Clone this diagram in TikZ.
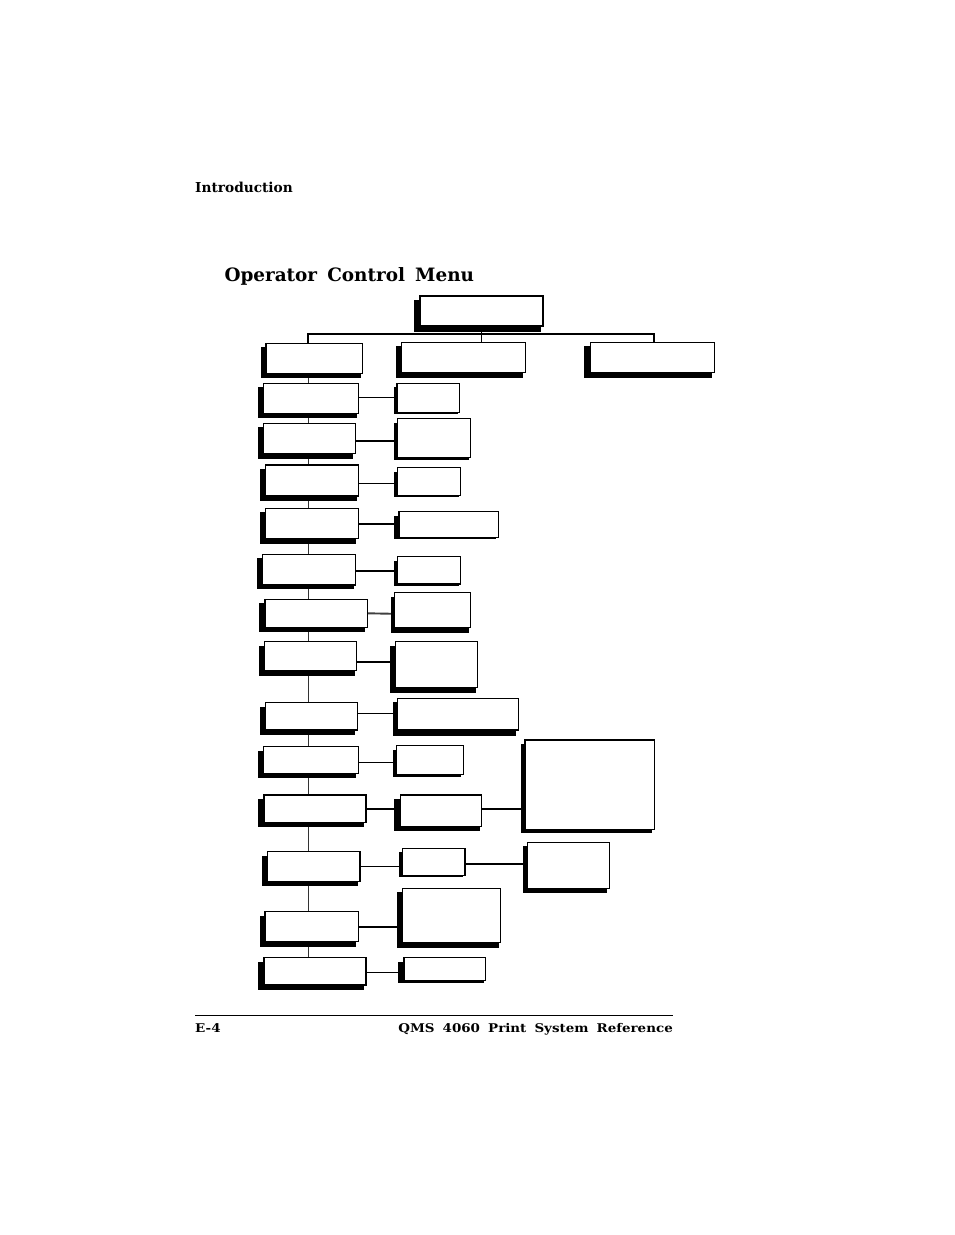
\documentclass[tikz,border=0pt]{standalone}
\usepackage{fontspec}
\setmainfont{DejaVu Serif}
\usetikzlibrary{backgrounds}
\newcommand\bx[7]{\fill[black] ({#2-#6},{#3+4}) rectangle ({#4-2},{#5+#7});
  \node[box, minimum width=#4pt-#2pt, minimum height=#5pt-#3pt]
  (#1) at ({(#2+#4)/2},{(#3+#5)/2}) {};}
\begin{document}
\begin{tikzpicture}[x=1pt,y=-1pt,
  box/.style={draw, fill=white, line width=1.1pt, inner sep=0pt, outer sep=0pt},
  thinlink/.style={line width=0.9pt},
  thicklink/.style={line width=1.9pt},
  treeline/.style={line width=1.9pt},
  spine/.style={line width=1.5pt, black!80},
  hdr/.style={inner sep=0pt, font=\fontsize{13.7}{16}\selectfont\bfseries},
  foot/.style={inner sep=0pt, font=\fontsize{12}{14}\selectfont\bfseries}]
\useasboundingbox (0,0) rectangle (954,1235);
% header / title / footer
\node[hdr, anchor=base west] (intro) at (195,192.7) {Introduction};
\node[inner sep=0pt, anchor=base west, font=\fontsize{18.4}{22}\selectfont\bfseries] (title) at (224.3,281.7) {Operator\hspace{0.55em}Control\hspace{0.55em}Menu};
\draw[line width=0.8pt] (195,1015) -- (673,1015);
\node[foot, anchor=base west] (page) at (195,1032.3) {\scalebox{1.12}[1]{E-4}};
\node[foot, anchor=base east] (book) at (673,1032.3) {\scalebox{1.12}[1]{QMS\hspace{0.6em}4060\hspace{0.6em}Print\hspace{0.6em}System\hspace{0.6em}Reference}};
% boxes
\bx{T}{420}{296}{543}{326}{6}{5.5}
\bx{L0}{266}{343.3}{362.7}{373.3}{5}{4.4}
\bx{M0}{401.7}{342.3}{525.3}{372.3}{6}{5.4}
\bx{R0}{590.7}{342.3}{714.3}{372.3}{6.4}{5.4}
\bx{A1}{263.3}{383.3}{358.7}{413.3}{5}{4.4}
\bx{B1}{397}{383.3}{459.7}{412.3}{3}{2}
\bx{A2}{263.3}{423.3}{355.3}{453.3}{5.3}{5.7}
\bx{B2}{397.3}{418.7}{470.7}{457.3}{3.3}{2.7}
\bx{A3}{265.3}{465}{358.7}{496}{5.3}{4.7}
\bx{B3}{397.3}{467.7}{460.7}{495.3}{3.3}{1.6}
\bx{A4}{265.3}{508.3}{358.3}{538.7}{5.3}{5}
\bx{B4}{399}{511.7}{498.3}{537.3}{5}{1.6}
\bx{A5}{262.3}{554.3}{355.7}{585}{5.6}{4.3}
\bx{B5}{397.7}{556.7}{460.7}{584}{3.7}{1.7}
\bx{A6}{265}{599.3}{367.3}{627.7}{5.7}{4}
\bx{B6}{394.3}{592.7}{470.7}{627.3}{3.3}{5.4}
\bx{A7}{264.3}{641.7}{356.7}{670.7}{5}{5}
\bx{B7}{395.7}{641.7}{477.7}{687.7}{5.7}{5}
\bx{A8}{265.7}{702.7}{357.3}{730}{5.7}{5}
\bx{B8}{397.7}{698.3}{518.3}{730}{5}{5.7}
\bx{A9}{263.3}{746.7}{358.3}{773.3}{5}{4.4}
\bx{B9}{396.7}{745.7}{463.3}{774.3}{3.4}{2.4}
\bx{C9}{525}{740}{654.3}{829.3}{4}{3.4}
\bx{A10}{264}{795}{366}{822.3}{5.7}{4.4}
\bx{B10}{400.7}{795}{481.7}{826.7}{6.7}{4}
\bx{A11}{267.3}{851.7}{360}{881.7}{5}{4}
\bx{B11}{402.7}{848.3}{465}{875.7}{3.4}{1.2}
\bx{C11}{527.7}{842.3}{609.3}{888.3}{5}{5}
\bx{A12}{265}{911.7}{358.3}{941.7}{5}{5}
\bx{B12}{402.3}{888.3}{500.7}{942.3}{5.6}{6}
\bx{A13}{264}{957.7}{366}{985}{5.7}{5}
\bx{B13}{404}{957.7}{485.7}{980.7}{5.7}{2.6}
\coordinate (sp) at (308.3,0);
\coordinate (rx) at (654.3,0);
\coordinate (bar) at (0,334.3);
\begin{scope}[on background layer]
\fill[white] (0,0) rectangle (954,1235);
\draw[treeline] (sp |- L0.north) -- (sp |- bar) -- (rx |- bar) -- (rx |- R0.north);
\draw[treeline] (T.south) -- (T.south |- M0.north);
\draw[spine] (sp |- L0.south) -- (sp |- A13.north);
\draw[thinlink]  (A1.east |- 0,397.3) -- (B1.west |- 0,397.3);
\draw[thicklink] (A2.east |- 0,441) -- (B2.west |- 0,441);
\draw[thinlink]  (A3.east |- 0,483.3) -- (B3.west |- 0,483.3);
\draw[thicklink] (A4.east |- 0,523.7) -- (B4.west |- 0,523.7);
\draw[thicklink] (A5.east |- 0,570.7) -- (B5.west |- 0,570.7);
\draw[thicklink, black!75] (A6.east |- 0,613.3) -- (B6.west |- 0,613.8);
\draw[thicklink] (A7.east |- 0,661.7) -- (B7.west |- 0,661.7);
\draw[thinlink]  (A8.east |- 0,713.3) -- (B8.west |- 0,713.3);
\draw[thinlink]  (A9.east |- 0,762.3) -- (B9.west |- 0,762.3);
\draw[thicklink] (A10.east |- 0,809) -- (B10.west |- 0,809);
\draw[thicklink] (B10.east |- 0,809) -- (C9.west |- 0,809);
\draw[thinlink]  (A11.east |- 0,866.7) -- (B11.west |- 0,866.7);
\draw[thicklink] (B11.east |- 0,864) -- (C11.west |- 0,864);
\draw[thicklink] (A12.east |- 0,927.3) -- (B12.west |- 0,927.3);
\draw[thinlink]  (A13.east |- 0,972.7) -- (B13.west |- 0,972.7);
\end{scope}
\end{tikzpicture}
\end{document}
